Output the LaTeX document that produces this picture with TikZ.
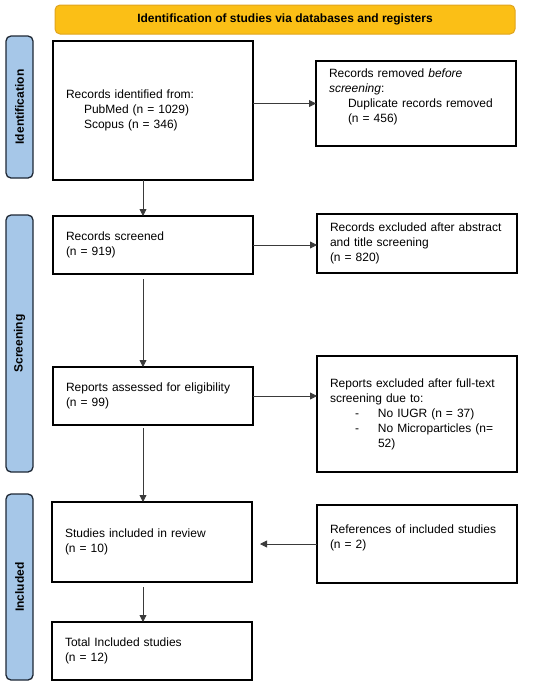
\documentclass[tikz,border=0pt]{standalone}
\usepackage{fontspec}
\setmainfont{Liberation Sans}
\usetikzlibrary{arrows.meta}
\definecolor{headfill}{HTML}{FBBF16}
\definecolor{headline}{HTML}{E0A41E}
\definecolor{sidefill}{HTML}{A6C7E8}
\definecolor{sideline}{HTML}{1E2835}
\definecolor{arrline}{HTML}{3A3A3A}
\tikzset{
  stage/.style={draw=black,line width=1.1pt,fill=white,align=left,
    text width=174pt,inner xsep=13pt,inner ysep=0pt,minimum width=200pt,outer sep=0pt},
  phase/.style={draw=sideline,line width=1.3pt,fill=sidefill,rounded corners=5pt,
    rotate=90,minimum height=27pt,inner sep=0pt,font=\fontsize{12}{15}\selectfont\bfseries,outer sep=0pt},
  arr/.style={draw=arrline,line width=0.8pt,-{Triangle[length=7pt,width=7pt]}}
}
\begin{document}
\begin{tikzpicture}[x=1pt,y=-1pt,font=\fontsize{12}{15}\selectfont]
				\useasboundingbox (0,0) rectangle (550,686);
				% header and the three phases
				\node[draw=headline,line width=1pt,fill=headfill,rounded corners=5pt,
					minimum width=460pt,minimum height=29pt,inner sep=0pt,font=\fontsize{12}{15}\selectfont\bfseries]
					(head) at (285,19.5) {Identification of studies via databases and registers};
				\node[phase,minimum width=142pt] (sideid) at (19.5,107) {Identification};
				\node[phase,minimum width=257pt] (sidescr) at (19.5,343.5) {Screening};
				\node[phase,minimum width=186pt] (sideinc) at (19.5,587) {Included};
				% left column
				\node[stage,minimum height=139pt] (ident) at (153,110.5)
					{Records identified from:\\\hspace*{18pt}PubMed (n = 1029)\\\hspace*{18pt}Scopus (n = 346)};
				\node[stage,minimum height=58pt] (scr) at (153,245)
					{Records screened\\(n = 919)};
				\node[stage,minimum height=58pt] (assess) at (153,396)
					{Reports assessed for eligibility\\(n = 99)};
				\node[stage,minimum height=80pt] (incl) at (152,542)
					{Studies included in review\\(n = 10)};
				\node[stage,minimum height=58pt] (total) at (152,651)
					{Total Included studies\\(n = 12)};
				% right column
				\node[stage,minimum height=85pt] (removed) at (416,103.5)
					{Records removed \emph{before}\\\emph{screening}:\\\hspace*{19pt}Duplicate records removed\\\hspace*{19pt}(n = 456)\\\mbox{}};
				\node[stage,minimum height=59pt] (excl) at (417,243.5)
					{Records excluded after abstract\\and title screening\\(n = 820)};
				\node[stage,minimum height=116pt] (repexcl) at (417,414)
					{Reports excluded after full-text\\screening due to:\\
					\hspace*{25pt}\makebox[23pt][l]{-}No IUGR (n = 37)\\
					\hspace*{25pt}\makebox[23pt][l]{-}No Microparticles (n=\\
					\hspace*{48pt}52)};
				\node[stage,minimum height=78pt] (refs) at (417,544)
					{References of included studies\\(n = 2)\\\mbox{}};
				% connectors
				\draw[arr] (ident.east |- removed.west) -- (removed.west);
				\draw[arr] (scr.east) -- (scr.east -| excl.west);
				\draw[arr] (assess.east) -- (assess.east -| repexcl.west);
				\draw[arr,shorten >=8pt] (refs.west) -- (refs.west -| incl.east);
				\draw[arr] ([xshift=-10pt]ident.south) -- ([xshift=-10pt]scr.north);
				\draw[arr,shorten <=5pt] ([xshift=-10pt]scr.south) -- ([xshift=-10pt]assess.north);
				\draw[arr,shorten <=3pt] ([xshift=-10pt]assess.south) -- ([xshift=-9pt]incl.north);
				\draw[arr,shorten <=5pt] ([xshift=-9pt]incl.south) -- ([xshift=-9pt]total.north);
			\end{tikzpicture}
\end{document}
